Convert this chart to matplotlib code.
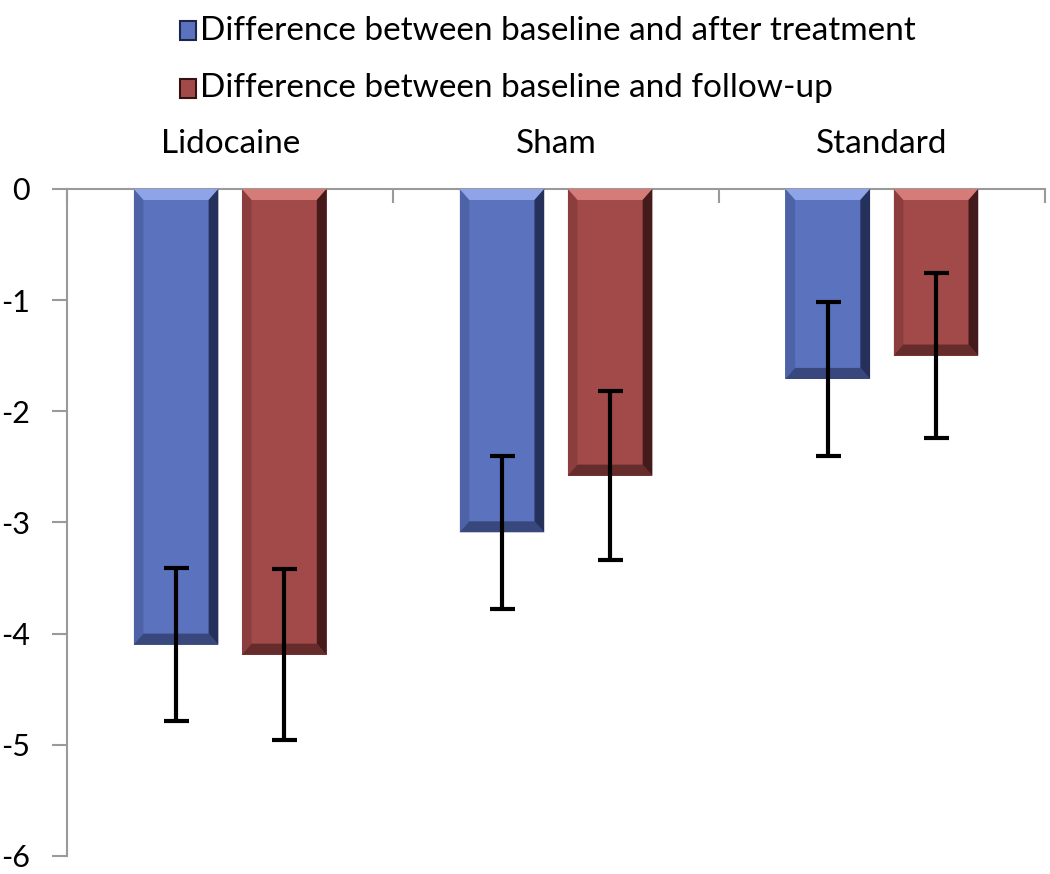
import numpy as np
import matplotlib.pyplot as plt
from matplotlib.patches import Polygon

categories = ['Lidocaine', 'Sham', 'Standard']
series_names = ['Difference between baseline and after treatment',
                'Difference between baseline and follow-up']
after_treatment = [-4.10, -3.09, -1.71]
after_treatment_err = [0.69, 0.69, 0.69]
follow_up = [-4.19, -2.58, -1.50]
follow_up_err = [0.77, 0.76, 0.74]
y_ticks = [0, -1, -2, -3, -4, -5, -6]

FONT = ['Lato', 'DejaVu Sans']
plt.rcParams['font.family'] = FONT

# face, light top, dark side
BLUE = ('#5b73bf', '#8ea3e8', '#1c2648')
RED = ('#a24a4a', '#d67c78', '#351212')


def bevel(ax, patch, colors, bx=0.03, by=0.1):
    x0, y0 = patch.get_x(), patch.get_y()
    w, h = patch.get_width(), patch.get_height()
    x1 = x0 + w
    ytop, ybot = max(y0, y0 + h), min(y0, y0 + h)
    face, light, dark = colors
    # top strip (light)
    ax.add_patch(Polygon([(x0, ytop), (x1, ytop), (x1 - bx, ytop - by), (x0 + bx, ytop - by)],
                         closed=True, facecolor=light, edgecolor='none', zorder=3))
    # right strip (dark)
    ax.add_patch(Polygon([(x1, ytop), (x1, ybot), (x1 - bx, ybot + by), (x1 - bx, ytop - by)],
                         closed=True, facecolor=dark, edgecolor='none', alpha=0.85, zorder=3))
    # bottom strip (dark)
    ax.add_patch(Polygon([(x0, ybot), (x1, ybot), (x1 - bx, ybot + by), (x0 + bx, ybot + by)],
                         closed=True, facecolor=dark, edgecolor='none', alpha=0.55, zorder=3))
    # left strip (slightly dark)
    ax.add_patch(Polygon([(x0, ytop), (x0, ybot), (x0 + bx, ybot + by), (x0 + bx, ytop - by)],
                         closed=True, facecolor=dark, edgecolor='none', alpha=0.2, zorder=3))


fig = plt.figure(figsize=(10.5, 8.74), dpi=100)
ax = fig.add_axes([0.064, 0.0206, 0.931, 0.7633])

x = np.arange(len(categories))
off = 0.166
width = 0.26

b1 = ax.bar(x - off, after_treatment, width, color=BLUE[0], zorder=2)
b2 = ax.bar(x + off, follow_up, width, color=RED[0], zorder=2)
for p in b1:
    bevel(ax, p, BLUE)
for p in b2:
    bevel(ax, p, RED)

ax.errorbar(x - off, after_treatment, yerr=after_treatment_err, fmt='none',
            ecolor='black', elinewidth=3, capsize=9, capthick=3, zorder=5)
ax.errorbar(x + off, follow_up, yerr=follow_up_err, fmt='none',
            ecolor='black', elinewidth=3, capsize=9, capthick=3, zorder=5)

ax.set_xlim(-0.5, len(categories) - 0.5)
ax.set_ylim(-6, 0)
ax.set_yticks(y_ticks)
ax.set_yticklabels([str(t) for t in y_ticks], fontsize=22)

for s in ['right', 'bottom']:
    ax.spines[s].set_visible(False)
ax.spines['left'].set_color('#9a9a9a')
ax.spines['top'].set_color('#9a9a9a')
ax.spines['left'].set_linewidth(1.5)
ax.spines['top'].set_linewidth(1.5)
ax.tick_params(axis='y', direction='out', length=11, width=1.5, color='#9a9a9a', pad=16)

# category boundary ticks on the top axis
ax.set_xticks(np.arange(len(categories) + 1) - 0.5, minor=True)
ax.set_xticks([])
ax.tick_params(axis='x', which='minor', top=True, bottom=False, direction='in',
               length=10, width=1.5, color='#9a9a9a')
for i, c in enumerate(categories):
    ax.text(x[i], 1.045, c, transform=ax.get_xaxis_transform(), ha='center', va='bottom',
            fontsize=24)

# legend
leg_y = [0.965, 0.899]
for name, col, yy in zip(series_names, [BLUE, RED], leg_y):
    fig.patches.append(plt.Rectangle((0.171, yy - 0.011), 0.016, 0.022, transform=fig.transFigure,
                                     facecolor=col[0], edgecolor=col[2], linewidth=1.5))
    fig.text(0.19, yy, name, fontsize=24, va='center', ha='left')

fig.savefig('out.png', dpi=100)
